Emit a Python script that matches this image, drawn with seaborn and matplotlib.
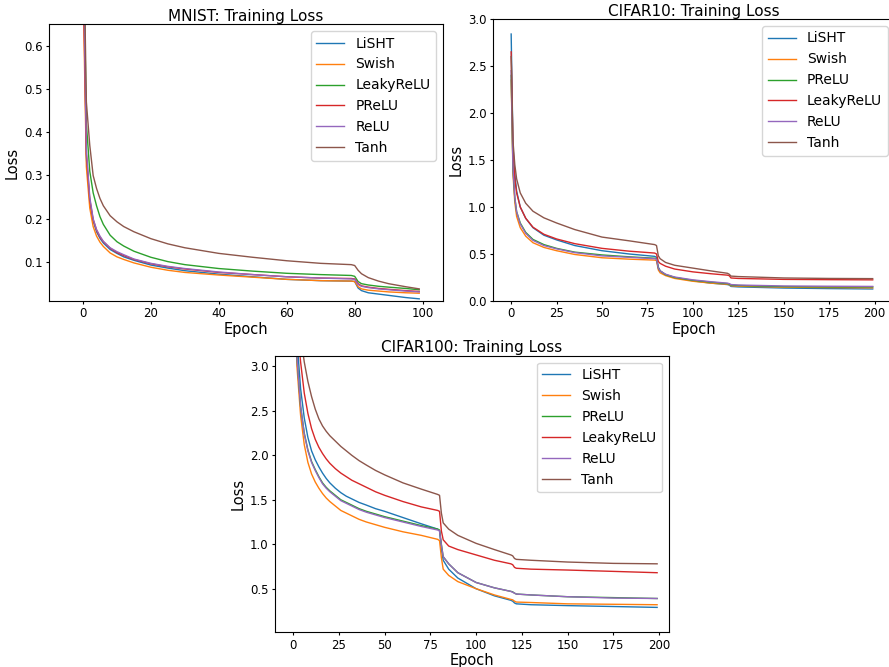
import pandas as pd
import matplotlib
matplotlib.use("Agg")
import matplotlib.pyplot as plt
import seaborn as sns

# ---- MNIST ----
mnist_epochs = [0, 1, 2, 3, 4, 5, 6, 8, 10, 12, 15, 20, 25, 30, 40, 50, 60, 70,
                79, 80, 81, 82, 84, 87, 90, 95, 99]
mnist_names = ["LiSHT", "Swish", "LeakyReLU", "PReLU", "ReLU", "Tanh"]
mnist_lisht = [0.9, 0.34, 0.24, 0.195, 0.17, 0.155, 0.144, 0.129, 0.12, 0.112, 0.104, 0.093, 0.086, 0.08,
               0.072, 0.066, 0.06, 0.057, 0.056, 0.055, 0.04, 0.034, 0.029, 0.026, 0.023, 0.018, 0.015]
mnist_swish = [0.75, 0.32, 0.225, 0.182, 0.16, 0.146, 0.136, 0.121, 0.112, 0.106, 0.098, 0.088, 0.081, 0.076,
               0.07, 0.065, 0.06, 0.057, 0.056, 0.055, 0.043, 0.038, 0.035, 0.033, 0.031, 0.029, 0.028]
mnist_leaky = [0.9, 0.42, 0.31, 0.26, 0.23, 0.205, 0.187, 0.162, 0.147, 0.137, 0.125, 0.111, 0.101, 0.094,
               0.085, 0.079, 0.074, 0.071, 0.069, 0.067, 0.055, 0.05, 0.047, 0.044, 0.042, 0.039, 0.036]
mnist_prelu = [0.8, 0.35, 0.245, 0.198, 0.174, 0.158, 0.147, 0.132, 0.122, 0.115, 0.106, 0.096, 0.089, 0.084,
               0.076, 0.071, 0.066, 0.063, 0.062, 0.061, 0.05, 0.045, 0.042, 0.039, 0.037, 0.034, 0.032]
mnist_relu = [0.85, 0.36, 0.25, 0.2, 0.175, 0.16, 0.148, 0.133, 0.124, 0.117, 0.107, 0.097, 0.09, 0.085,
              0.077, 0.071, 0.066, 0.063, 0.061, 0.06, 0.048, 0.044, 0.041, 0.038, 0.036, 0.033, 0.031]
mnist_tanh = [0.95, 0.47, 0.37, 0.30, 0.27, 0.247, 0.23, 0.207, 0.193, 0.182, 0.17, 0.154, 0.142, 0.133,
              0.12, 0.111, 0.103, 0.097, 0.094, 0.092, 0.081, 0.073, 0.064, 0.056, 0.05, 0.043, 0.038]

# ---- CIFAR10 ----
c10_epochs = [0, 1, 2, 3, 5, 8, 12, 18, 25, 35, 50, 65, 79, 80, 81, 82, 85, 90, 100,
              110, 119, 120, 121, 125, 150, 175, 199]
cifar_names = ["LiSHT", "Swish", "PReLU", "LeakyReLU", "ReLU", "Tanh"]
c10_lisht = [2.84, 1.65, 1.35, 1.17, 1.0, 0.88, 0.78, 0.7, 0.65, 0.59, 0.535, 0.5, 0.475, 0.465,
             0.36, 0.32, 0.28, 0.25, 0.215, 0.19, 0.175, 0.17, 0.155, 0.15, 0.138, 0.132, 0.128]
c10_swish = [2.35, 1.35, 1.05, 0.9, 0.78, 0.69, 0.62, 0.57, 0.535, 0.495, 0.46, 0.445, 0.435, 0.43,
             0.33, 0.30, 0.27, 0.24, 0.21, 0.19, 0.178, 0.175, 0.162, 0.158, 0.147, 0.143, 0.14]
c10_prelu = [2.4, 1.4, 1.1, 0.95, 0.83, 0.73, 0.655, 0.6, 0.56, 0.52, 0.49, 0.47, 0.455, 0.45,
             0.35, 0.32, 0.28, 0.25, 0.22, 0.2, 0.185, 0.18, 0.17, 0.165, 0.153, 0.15, 0.15]
c10_leaky = [2.65, 1.6, 1.3, 1.15, 1.0, 0.88, 0.785, 0.71, 0.66, 0.61, 0.56, 0.53, 0.51, 0.50,
             0.42, 0.40, 0.37, 0.34, 0.31, 0.29, 0.275, 0.27, 0.245, 0.24, 0.23, 0.227, 0.225]
c10_relu = [2.45, 1.42, 1.1, 0.95, 0.82, 0.72, 0.645, 0.59, 0.555, 0.515, 0.48, 0.465, 0.45, 0.445,
            0.35, 0.32, 0.285, 0.255, 0.225, 0.205, 0.19, 0.185, 0.175, 0.17, 0.16, 0.157, 0.155]
c10_tanh = [2.6, 1.7, 1.45, 1.3, 1.15, 1.04, 0.955, 0.885, 0.83, 0.76, 0.68, 0.64, 0.60, 0.59,
            0.48, 0.45, 0.41, 0.38, 0.35, 0.32, 0.295, 0.285, 0.265, 0.26, 0.245, 0.24, 0.238]

# ---- CIFAR100 ----
c100_epochs = [0, 2, 4, 6, 8, 10, 12, 14, 16, 18, 20, 23, 26, 29, 32, 36, 40, 45, 50, 60, 70,
               79, 80, 81, 82, 85, 90, 100, 110, 119, 120, 121, 122, 130, 150, 175, 199]
c100_lisht = [4.6, 3.3, 2.75, 2.42, 2.2, 2.05, 1.95, 1.87, 1.8, 1.74, 1.69, 1.63, 1.58, 1.54, 1.51,
              1.47, 1.44, 1.4, 1.37, 1.3, 1.23, 1.17, 1.15, 0.95, 0.82, 0.72, 0.62, 0.50, 0.42, 0.37,
              0.36, 0.34, 0.33, 0.32, 0.31, 0.30, 0.29]
c100_swish = [4.6, 3.0, 2.45, 2.12, 1.92, 1.79, 1.7, 1.63, 1.57, 1.52, 1.48, 1.43, 1.38, 1.35, 1.32,
              1.28, 1.25, 1.22, 1.19, 1.14, 1.1, 1.055, 1.04, 0.85, 0.72, 0.65, 0.58, 0.50, 0.43, 0.38,
              0.375, 0.36, 0.35, 0.345, 0.33, 0.325, 0.32]
c100_prelu = [4.6, 3.1, 2.55, 2.25, 2.06, 1.93, 1.84, 1.76, 1.69, 1.64, 1.6, 1.55, 1.5, 1.47, 1.44,
              1.4, 1.37, 1.34, 1.31, 1.26, 1.21, 1.17, 1.16, 1.0, 0.86, 0.78, 0.68, 0.57, 0.51, 0.47,
              0.465, 0.45, 0.44, 0.43, 0.41, 0.40, 0.39]
c100_leaky = [4.6, 3.5, 3.05, 2.7, 2.47, 2.3, 2.18, 2.09, 2.02, 1.96, 1.91, 1.85, 1.8, 1.76, 1.72,
              1.68, 1.64, 1.59, 1.55, 1.48, 1.42, 1.38, 1.37, 1.15, 1.05, 0.98, 0.94, 0.88, 0.82, 0.78,
              0.77, 0.74, 0.73, 0.72, 0.71, 0.695, 0.68]
c100_relu = [4.6, 3.1, 2.55, 2.24, 2.05, 1.92, 1.83, 1.75, 1.68, 1.63, 1.59, 1.54, 1.49, 1.46, 1.43,
             1.39, 1.36, 1.33, 1.30, 1.25, 1.20, 1.16, 1.15, 0.99, 0.86, 0.78, 0.68, 0.57, 0.51, 0.47,
             0.46, 0.45, 0.44, 0.43, 0.41, 0.395, 0.39]
c100_tanh = [4.6, 3.8, 3.35, 3.05, 2.83, 2.66, 2.52, 2.41, 2.33, 2.27, 2.22, 2.16, 2.1, 2.05, 2.0,
             1.94, 1.89, 1.83, 1.78, 1.69, 1.62, 1.56, 1.55, 1.35, 1.24, 1.17, 1.1, 1.01, 0.94, 0.88,
             0.87, 0.84, 0.83, 0.82, 0.80, 0.785, 0.78]


def long_table(epochs, names, series):
    rows = []
    for name, vals in zip(names, series):
        for e, v in zip(epochs, vals):
            rows.append((e, v, name))
    return pd.DataFrame(rows, columns=["Epoch", "Loss", "Activation"])


panels = [
    ("MNIST: Training Loss", long_table(mnist_epochs, mnist_names,
        [mnist_lisht, mnist_swish, mnist_leaky, mnist_prelu, mnist_relu, mnist_tanh]),
     mnist_names, [49 / 889, 366 / 667, 394 / 889, 277 / 667], (-10, 106), (0.01, 0.65), None),
    ("CIFAR10: Training Loss", long_table(c10_epochs, cifar_names,
        [c10_lisht, c10_swish, c10_prelu, c10_leaky, c10_relu, c10_tanh]),
     cifar_names, [493 / 889, 366 / 667, 401.5 / 889, 282 / 667], (-10, 211), (0, 3.0), None),
    ("CIFAR100: Training Loss", long_table(c100_epochs, cifar_names,
        [c100_lisht, c100_swish, c100_prelu, c100_leaky, c100_relu, c100_tanh]),
     cifar_names, [275 / 889, 34.7 / 667, 394 / 889, 276.6 / 667], (-10, 205.5), (0.01, 3.12),
     [0.5, 1.0, 1.5, 2.0, 2.5, 3.0]),
]

plt.rcParams["font.family"] = ["DejaVu Sans"]
plt.rcParams["xtick.major.size"] = 2.5
plt.rcParams["ytick.major.size"] = 2.5
plt.rcParams["xtick.major.pad"] = 2
plt.rcParams["ytick.major.pad"] = 2

fig = plt.figure(figsize=(8.89, 6.67), dpi=100)
tab = sns.color_palette("tab10")

for title, df, names, rect, xlim, ylim, yticks in panels:
    ax = fig.add_axes(rect)
    pal = dict(zip(names, tab[:6]))
    sns.lineplot(data=df, x="Epoch", y="Loss", hue="Activation", hue_order=names,
                 palette=pal, estimator=None, linewidth=1.0, ax=ax)
    ax.set_xlim(*xlim)
    ax.set_ylim(*ylim)
    if yticks:
        ax.set_yticks(yticks)
    ax.set_title(title, fontsize=11, pad=2.5)
    ax.set_xlabel("Epoch", fontsize=10.5, labelpad=1)
    ax.set_ylabel("Loss", fontsize=10.5, labelpad=3)
    ax.tick_params(labelsize=8.5)
    h, l = ax.get_legend_handles_labels()
    ax.legend(h, l, loc="upper right", fontsize=10)

fig.savefig("out.png", dpi=100)
